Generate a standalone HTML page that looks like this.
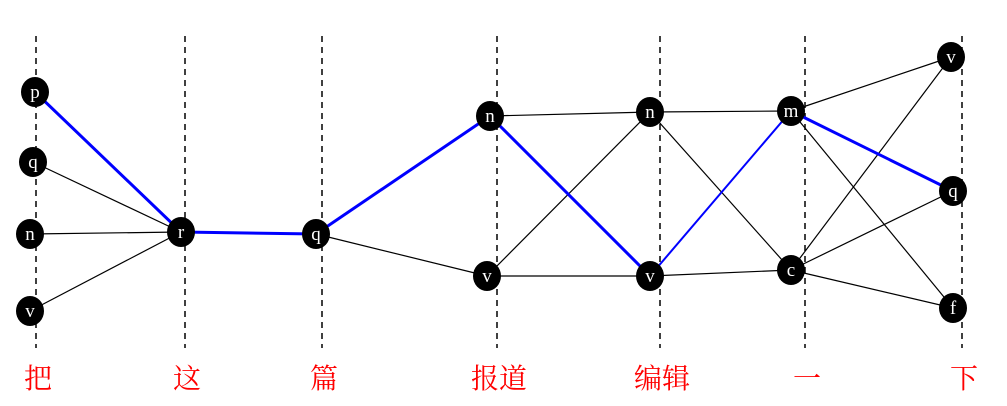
<!DOCTYPE html>
<html><head><meta charset="utf-8"><style>
html,body{margin:0;padding:0;background:#fff;width:1007px;height:406px;overflow:hidden}
</style></head><body>
<svg id="chart" width="1007" height="406" viewBox="0 0 1007 406" xmlns="http://www.w3.org/2000/svg"></svg>
<script>
const words=["把","这","篇","报道","编辑","一","下"];
const colX=[36,185,322,497,660,805,962];
const nodeTags=[["p","q","n","v"],["r"],["q"],["n","v"],["n","v"],["m","c"],["v","q","f"]];
const nodePos=[[[35,92],[33,162],[30,234],[30,311]],[[181,232]],[[316,234]],[[490,116],[487,276]],[[650,112],[650,276]],[[791,111],[791,270]],[[951,57],[953,191],[953,308]]];
const edges=[[0,1,1,0],[0,2,1,0],[0,3,1,0],[2,0,3,1],[3,0,4,0],[3,0,4,1],[3,1,4,0],[3,1,4,1],[4,0,5,0],[4,0,5,1],[4,1,5,1],[5,0,6,0],[5,0,6,2],[5,1,6,0],[5,1,6,1],[5,1,6,2]];
const best=[[0,0,1,0,3],[1,0,2,0,3],[2,0,3,0,3],[3,0,4,1,3],[4,1,5,0,2],[5,0,6,1,3]];
const NS="http://www.w3.org/2000/svg";
const svg=document.getElementById('chart');
function mk(t,a){const e=document.createElementNS(NS,t);for(const k in a)e.setAttribute(k,a[k]);svg.appendChild(e);return e;}
colX.forEach((x,i)=>{
 const l=mk('line',{x1:x,y1:36,x2:x,y2:348,stroke:'#000','stroke-width':1.5,'stroke-dasharray':'6,5'});
 
 
 const t=mk('text',{x:x+2,y:388,'text-anchor':'middle','font-size':28,fill:'#f00','font-family':'"Liberation Serif","Noto Serif CJK SC",serif'});
 t.textContent=words[i];
 
 
});
function P(c,n){return nodePos[c][n];}
edges.forEach(e=>{const a=P(e[0],e[1]),b=P(e[2],e[3]);
 const l=mk('line',{x1:a[0],y1:a[1],x2:b[0],y2:b[1],stroke:'#000','stroke-width':1.2});
 
 
});
best.forEach(e=>{const a=P(e[0],e[1]),b=P(e[2],e[3]);
 const l=mk('line',{x1:a[0],y1:a[1],x2:b[0],y2:b[1],stroke:'#0000ff','stroke-width':e[4]});
 
 
});
nodeTags.forEach((col,c)=>col.forEach((tag,n)=>{const p=P(c,n);
 const g=mk('ellipse',{cx:p[0],cy:p[1],rx:14,ry:15,fill:'#000'});
 
 
 const t=mk('text',{x:p[0],y:p[1]+6,'text-anchor':'middle','font-size':19,fill:'#fff','font-family':'"Liberation Serif",serif'});
 t.textContent=tag;
 
 
}));
</script>
</body></html>
